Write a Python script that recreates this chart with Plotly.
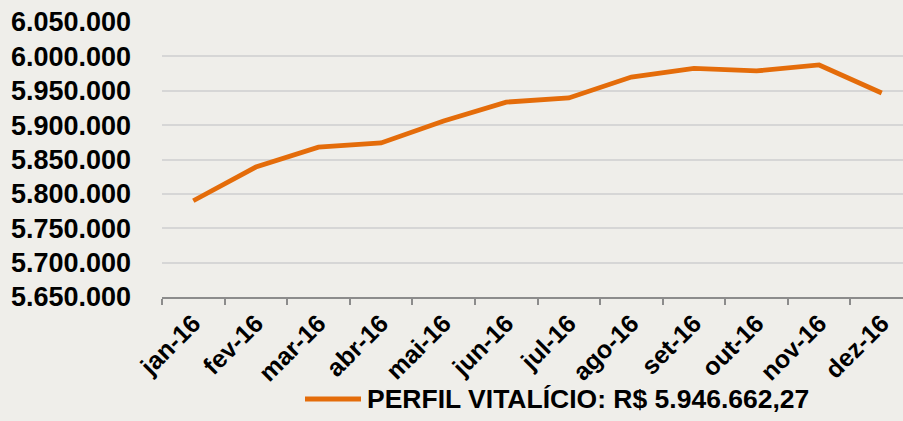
import plotly.graph_objects as go

months = ["jan-16", "fev-16", "mar-16", "abr-16", "mai-16", "jun-16",
          "jul-16", "ago-16", "set-16", "out-16", "nov-16", "dez-16"]
values = [5790000, 5839000, 5868000, 5874000, 5906000, 5933500,
          5939500, 5970000, 5982500, 5978800, 5987500, 5946662.27]
series_name = "PERFIL VITALÍCIO: R$ 5.946.662,27"

ORANGE = "#E46C0A"
BG = "#EFEEEA"
FONT = "Liberation Sans, Arial, sans-serif"

fig = go.Figure()
fig.add_trace(go.Scatter(
    x=months, y=values, mode="lines", name=series_name,
    line=dict(color=ORANGE, width=4.8), showlegend=False,
))

# custom legend (line + text)
fig.add_shape(type="line", xref="paper", yref="paper",
              x0=(305 - 162) / 741, x1=(361 - 162) / 741,
              y0=(297 - 399) / 275, y1=(297 - 399) / 275,
              line=dict(color=ORANGE, width=4.8))
fig.add_annotation(text=series_name, xref="paper", yref="paper",
                   x=(365 - 162) / 741, y=(297 - 399) / 275,
                   xanchor="left", yanchor="middle", showarrow=False,
                   font=dict(family=FONT, size=26.5, color="black", weight="bold"))

fig.update_layout(
    width=903, height=421,
    margin=dict(l=162, r=0, t=22, b=124),
    paper_bgcolor=BG, plot_bgcolor=BG,
    separators=",.",
    showlegend=False,
)
fig.update_xaxes(
    type="category", range=[-0.5, 11.34],
    showgrid=False, showline=True, linecolor="#8C8C8C", linewidth=1.5,
    ticks="outside", tickson="boundaries", ticklen=6, tickcolor="#8C8C8C",
    tickwidth=1.5, tickangle=-45,
    tickfont=dict(family=FONT, size=25, color="black", weight="bold"),
)
fig.update_yaxes(
    range=[5650000, 6050000], dtick=50000, tick0=5650000,
    tickformat=",d", showgrid=True, gridcolor="#D6D6D6", gridwidth=1.5,
    zeroline=False, showline=False, ticks="", ticklabelstandoff=30,
    tickfont=dict(family=FONT, size=27, color="black", weight="bold"),
)

fig.write_html("out.html", config={"displayModeBar": False},
               post_script="document.body.style.margin='0px';document.body.style.background='%s';" % BG)
